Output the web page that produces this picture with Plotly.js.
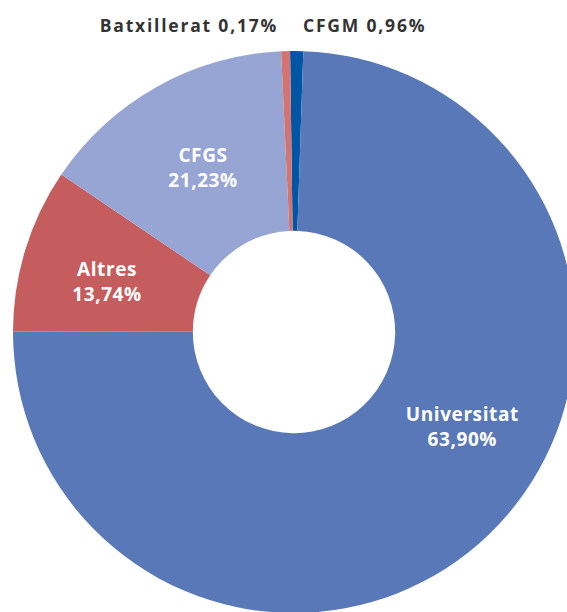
<!DOCTYPE html>
<html>
<head>
<meta charset="utf-8">
<script src="https://cdn.plot.ly/plotly-3.0.1.min.js"></script>
<style>
html,body{margin:0;padding:0;overflow:hidden;background:#fff;width:567px;height:612px;}
#chart{position:absolute;left:0;top:0;}
</style>
</head>
<body>
<div id="chart"></div>
<script>
// Categories in clockwise order starting near 12 o'clock
const categories = ["CFGM", "Universitat", "Altres", "CFGS", "Batxillerat"];
// Printed percentages (labels in the chart)
const printedPct = [0.96, 63.90, 13.74, 21.23, 0.17];
// Slice sizes as drawn in the picture (percent of the circle)
const drawnShare = [0.75, 74.5, 9.44, 14.8, 0.51];
const colors = ["#0055A5", "#5878B8", "#C55C5E", "#96A5D4", "#D27472"];

const W = 600, H = 640;
const fmt = v => v.toFixed(2).replace('.', ',') + '%';

// label placement (pixel centres) — layout only
const inside = {
  "Universitat": [462, 426],
  "CFGS": [203, 168],
  "Altres": [107, 281]
};
const outside = {
  "Batxillerat": [189, 25],
  "CFGM": [364, 25]
};

const annotations = [];
const spacing = [];
categories.forEach((c, i) => {
  if (inside[c]) {
    const [x, y] = inside[c];
    annotations.push({x: x / W, y: 1 - y / H, xref: 'paper', yref: 'paper',
      text: c + '<br>' + fmt(printedPct[i]),
      showarrow: false, xanchor: 'center', yanchor: 'middle',
      font: {family: 'Open Sans, sans-serif', size: 19, color: '#ffffff', weight: 'bold'}});
    spacing.push('0.6px');
  } else if (outside[c]) {
    const [x, y] = outside[c];
    annotations.push({x: x / W, y: 1 - y / H, xref: 'paper', yref: 'paper',
      text: c + ' ' + fmt(printedPct[i]),
      showarrow: false, xanchor: 'center', yanchor: 'middle',
      font: {family: 'Open Sans, sans-serif', size: 17.5, color: '#333333', weight: 'bold'}});
    spacing.push('1.8px');
  }
});

const cx = 294, cy = 332, R = 281;
const data = [{
  type: 'pie',
  labels: categories,
  values: drawnShare,
  sort: false,
  direction: 'clockwise',
  rotation: -0.8,
  hole: 0.36,
  textinfo: 'none',
  hoverinfo: 'label',
  marker: {colors: colors, line: {width: 0}},
  domain: {x: [(cx - R) / W, (cx + R) / W], y: [1 - (cy + R) / H, 1 - (cy - R) / H]}
}];

const layout = {
  width: W, height: H,
  margin: {l: 0, r: 0, t: 0, b: 0},
  showlegend: false,
  paper_bgcolor: '#ffffff',
  annotations: annotations
};

Plotly.newPlot('chart', data, layout, {displayModeBar: false, staticPlot: true}).then(gd => {
  gd.querySelectorAll('.annotation').forEach((a, i) => {
    const t = a.querySelector('.annotation-text');
    if (t && spacing[i]) t.style.letterSpacing = spacing[i];
  });
});
</script>
</body>
</html>
